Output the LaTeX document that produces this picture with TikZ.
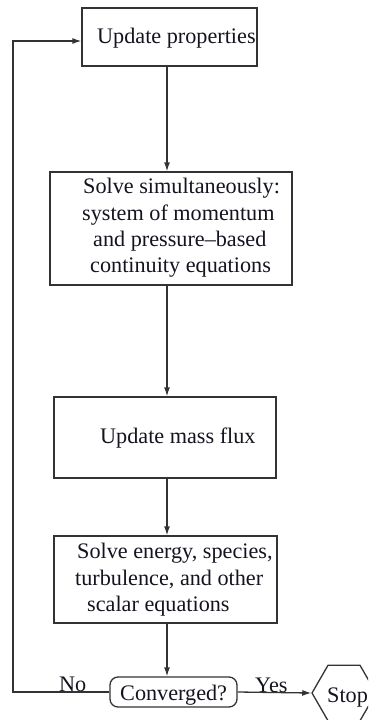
\documentclass[tikz,border=0pt]{standalone}
\usepackage{fontspec}
\setmainfont{Liberation Serif}
\usetikzlibrary{arrows.meta,shapes.geometric}
\definecolor{ln}{HTML}{333333}
\definecolor{tx}{HTML}{141420}
\tikzset{
  box/.style={draw=ln, line width=1.3pt, inner sep=0pt, fill=white},
  txt/.style={anchor=base west, inner sep=0pt, text=tx, font=\fontsize{22.2}{26}\selectfont},
  arr/.style={draw=ln, line width=1.3pt, -{Latex[length=9pt,width=6pt]}},
}
\begin{document}
\begin{tikzpicture}[x=1pt,y=-1pt]
\clip (0,0) rectangle (368,720);
\fill[white] (0,0) rectangle (368,720);
% boxes
\node[box, minimum width=175pt, minimum height=58pt] (b1) at (169.5,37) {};
\node[box, minimum width=242pt, minimum height=113pt] (b2) at (171,228.5) {};
\node[box, minimum width=222pt, minimum height=81pt] (b3) at (165,437.5) {};
\node[box, minimum width=223pt, minimum height=87pt] (b4) at (165.5,579.5) {};
\node[box, rounded corners=8pt, minimum width=127pt, minimum height=30pt] (cv) at (173.5,692) {};
\node[box, regular polygon, regular polygon sides=6, minimum size=64pt] (st) at (344,693) {};
% texts
\node[txt] (t1) at (97,43) {Update properties};
\node[txt] (t21) at (83,193) {Solve simultaneously:};
\node[txt] (t22) at (82,220) {system of momentum};
\node[txt] (t23) at (93,246) {and pressure--based};
\node[txt] (t24) at (90,272) {continuity equations};
\node[txt] (t3) at (100,443) {Update mass flux};
\node[txt] (t41) at (77,558) {Solve energy, species,};
\node[txt] (t42) at (75,585) {turbulence, and other};
\node[txt] (t43) at (87,611) {scalar equations};
\node[txt] (tc) at (120,700) {Converged?};
\node[txt] (tst) at (327,702) {Stop};
\node[txt] (tno) at (59,691) {No};
\node[txt] (tyes) at (255,692) {Yes};
% connectors
\coordinate (sp) at (167,0);
\coordinate (lb) at (13,692);
\coordinate (lt) at (13,41);
\draw[arr] (b1.south -| sp) -- (b2.north -| sp);
\draw[arr] (b2.south -| sp) -- (b3.north -| sp);
\draw[arr] (b3.south -| sp) -- (b4.north -| sp);
\draw[arr] (b4.south -| sp) -- (cv.north -| sp);
\draw[arr] (cv.west) -- (lb) -- (lt) -- (lt -| b1.west);
\draw[arr] (cv.east) -- (st.west);
\end{tikzpicture}
\end{document}
